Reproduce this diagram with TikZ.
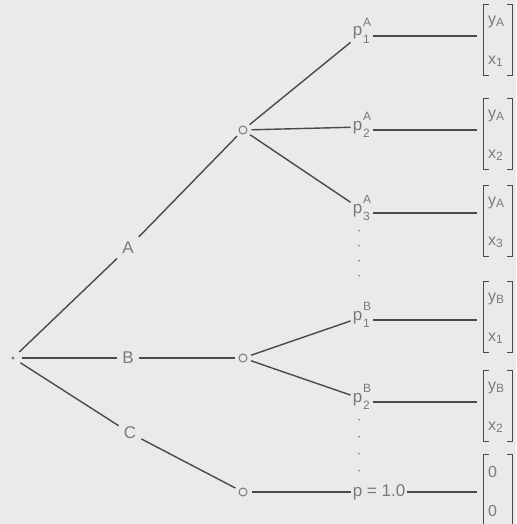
\documentclass[tikz,border=0pt]{standalone}
\usepackage{amsmath}
\usepackage{fontspec}
\setmainfont{Liberation Sans}
\usetikzlibrary{positioning,calc}
\definecolor{paper}{HTML}{EAEAE8}
\definecolor{ink}{HTML}{4A4A4A}
\definecolor{txt}{HTML}{7A7A7A}
\newcommand{\plab}[2]{p\hspace{1pt}{\fontsize{12}{12}\selectfont\begin{tabular}[c]{@{}l@{}}#1\\[5pt]#2\end{tabular}}}
\newcommand{\sub}[2]{#1\raisebox{-0.3ex}{\fontsize{12}{12}\selectfont #2}}

\begin{document}
\begin{tikzpicture}[x=1pt,y=-1pt,every node/.style={font=\fontsize{17}{19}\selectfont,text=txt},
  lbl/.style={inner sep=5pt},
  plbl/.style={inner sep=2pt},
  knot/.style={circle,draw=txt,line width=1pt,inner sep=0pt,minimum size=8pt},
  ln/.style={draw=ink,line width=1.4pt},
  vec/.style={minimum width=28pt,minimum height=70pt,inner sep=0pt}]
\fill[paper] (0,0) rectangle (516,524);
\useasboundingbox (0,0) rectangle (516,524);
\node[circle,fill=txt,inner sep=0pt,minimum size=3.2pt] (root) at (13,358) {};
\node[lbl] (A) at (128,248) {A};
\node[lbl] (B) at (128,358) {B};
\node[lbl] (C) at (130,433) {C};
\node[knot] (oA) at (243,130) {};
\node[knot] (oB) at (243,358) {};
\node[knot] (oC) at (243,492) {};
\node[plbl] (p1A) at (362,33) {\plab{A}{1}};
\node[plbl] (p2A) at (362,127) {\plab{A}{2}};
\node[plbl] (p3A) at (362,210) {\plab{A}{3}};
\node[plbl] (p1B) at (362,317) {\plab{B}{1}};
\node[plbl] (p2B) at (362,399) {\plab{B}{2}};
\node[plbl] (p0) at (379,492) {p = 1.0};
\node[vec] (v1) at (498,40) {};
\node[vec] (v2) at (498,134) {};
\node[vec] (v3) at (498,221) {};
\node[vec] (v4) at (498,317) {};
\node[vec] (v5) at (498,406) {};
\node[vec] (v6) at (498,490) {};
\foreach \v/\a/\b in {v1/{\sub{y}{A}}/{\sub{x}{1}},v2/{\sub{y}{A}}/{\sub{x}{2}},v3/{\sub{y}{A}}/{\sub{x}{3}},
                      v4/{\sub{y}{B}}/{\sub{x}{1}},v5/{\sub{y}{B}}/{\sub{x}{2}},v6/0/0}{
  \draw[ln,line width=1pt] ($(\v.north west)+(5,0)$) -- (\v.north west) -- (\v.south west) -- ++(5,0);
  \draw[ln,line width=1pt] ($(\v.north east)+(-5,0)$) -- (\v.north east) -- (\v.south east) -- ++(-5,0);
  \node[anchor=west,inner sep=0pt,font=\fontsize{16}{18}\selectfont] at ($(\v.north west)+(4,17)$) {\a};
  \node[anchor=west,inner sep=0pt,font=\fontsize{16}{18}\selectfont] at ($(\v.south west)+(4,-14)$) {\b};
}
\draw[ln,shorten <=7pt] (root) -- (A);
\draw[ln,shorten >=4pt] (A) -- (oA);
\draw[ln,shorten <=7pt] (root) -- (B);
\draw[ln,shorten >=4pt] (B) -- (oB);
\draw[ln,shorten <=7pt] (root) -- (C);
\draw[ln,shorten >=4pt] (C) -- (oC);
\draw[ln,shorten <=4pt] (oA) -- (p1A);
\draw[ln,shorten <=4pt] (oA) -- (p2A);
\draw[ln,shorten <=4pt] (oA) -- (p3A);
\draw[ln,shorten <=4pt] (oB) -- (p1B);
\draw[ln,shorten <=4pt] (oB) -- (p2B);
\draw[ln,shorten <=4pt] (oC) -- (p0);
\foreach \p in {p1A,p2A,p3A,p1B,p2B}
  \draw[ln,shorten >=7pt] ($(\p.east)+(0,3)$) -- ($(\p.east -| v1.west)+(0,3)$);
\draw[ln,shorten >=7pt] (p0.east) -- (p0.east -| v1.west);
\foreach \k in {0,...,3}{
  \fill[txt] ($(p3A.south)+(-3,4+\k*15)$) circle (0.9pt);
  \fill[txt] ($(p2B.south)+(-3,4+\k*17)$) circle (0.9pt);
}
\end{tikzpicture}
\end{document}
